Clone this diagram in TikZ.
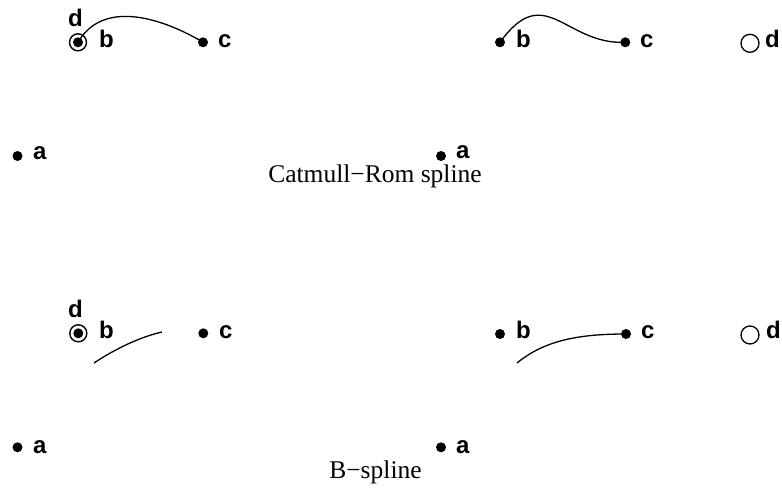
\documentclass[tikz,border=0pt]{standalone}
\usepackage{fontspec}
\setmainfont{Liberation Serif}
\newfontfamily\labfont{Liberation Sans}
\begin{document}
\begin{tikzpicture}[x=1pt,y=-1pt,
  dotpt/.style={circle,fill=black,inner sep=0pt,minimum size=10pt},
  ringpt/.style={circle,draw=black,line width=1.4pt,inner sep=0pt,minimum size=17pt},
  openpt/.style={circle,draw=black,line width=1.3pt,inner sep=0pt,minimum size=18pt},
  lab/.style={anchor=base west,inner sep=0pt,font=\labfont\bfseries\fontsize{24}{24}\selectfont},
  captext/.style={anchor=base,inner sep=0pt,font=\fontsize{25.5}{25.5}\selectfont},
  crv/.style={line width=1.3pt}]
\useasboundingbox (0,0) rectangle (782,494);
% ---------- Catmull-Rom, left ----------
\node[dotpt] (aTL) at (17.5,156) {};
\node[dotpt] (bTL) at (78,42.3) {};
\node[ringpt] (dTL) at (78,42.3) {};
\node[dotpt] (cTL) at (203,42.3) {};
\node[lab] (laTL) at (33,160) {a};
\node[lab] (lbTL) at (99,47.5) {b};
\node[lab] (lcTL) at (218,47.5) {c};
\node[lab] (ldTL) at (68,27) {d};
\draw[crv] (bTL.center) .. controls (112,-16) and (cTL.center) .. (cTL.center);
% ---------- Catmull-Rom, right ----------
\node[dotpt] (aTR) at (441,156) {};
\node[dotpt] (bTR) at (500,42.3) {};
\node[dotpt] (cTR) at (625.3,42.3) {};
\node[openpt] (dTR) at (750,43.3) {};
\node[lab] (laTR) at (456,159) {a};
\node[lab] (lbTR) at (516,47.5) {b};
\node[lab] (lcTR) at (640,47.5) {c};
\node[lab] (ldTR) at (765,47.5) {d};
\draw[crv] (bTR.center) .. controls (545,-20) and (565,45) .. (cTR.center);
\node[captext] (capT) at (375,183) {Catmull−Rom spline};
% ---------- B-spline, left ----------
\node[dotpt] (aBL) at (17.5,447.3) {};
\node[dotpt] (bBL) at (78.3,333.3) {};
\node[ringpt] (dBL) at (78.3,333.3) {};
\node[dotpt] (cBL) at (203.3,333.3) {};
\node[lab] (laBL) at (33,453) {a};
\node[lab] (lbBL) at (99,338) {b};
\node[lab] (lcBL) at (219,338) {c};
\node[lab] (ldBL) at (68,318) {d};
\coordinate (sBL) at (94,363);
\coordinate (eBL) at (162,332);
\draw[crv] (sBL) .. controls (115,349) and (140,337) .. (eBL);
% ---------- B-spline, right ----------
\node[dotpt] (aBR) at (441,447.3) {};
\node[dotpt] (bBR) at (500,334) {};
\node[dotpt] (cBR) at (626,334) {};
\node[openpt] (dBR) at (750,335) {};
\node[lab] (laBR) at (456,453) {a};
\node[lab] (lbBR) at (516,338.5) {b};
\node[lab] (lcBR) at (641,338.5) {c};
\node[lab] (ldBR) at (766,338.5) {d};
\coordinate (sBR) at (517,363);
\draw[crv] (sBR) .. controls (545,340) and (580,334) .. (cBR.center);
\node[captext] (capB) at (375.5,478) {B−spline};
\end{tikzpicture}
\end{document}
